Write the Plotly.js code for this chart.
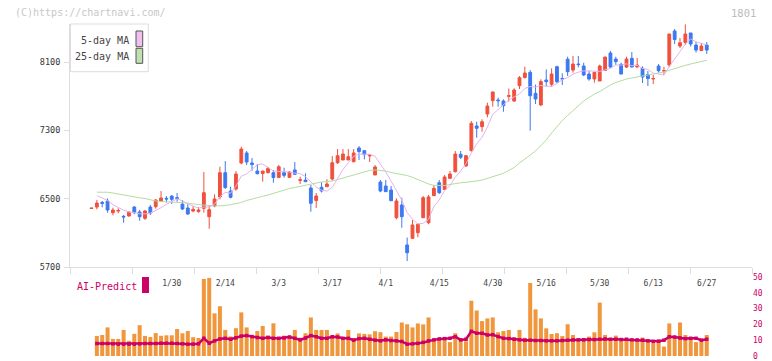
<!DOCTYPE html>
<html><head><meta charset="utf-8">
<script src="https://cdn.plot.ly/plotly-3.0.1.min.js"></script>
<style>html,body{margin:0;padding:0;background:#fff}#c{width:772px;height:361px}</style>
</head><body><div id="c"></div>
<script>
// trading days (categories)
const dates = [
"2025-01-08","2025-01-09","2025-01-10","2025-01-14","2025-01-15","2025-01-16","2025-01-17","2025-01-20","2025-01-21","2025-01-22","2025-01-23","2025-01-24","2025-01-27","2025-01-28","2025-01-29","2025-01-30","2025-01-31",
"2025-02-03","2025-02-04","2025-02-05","2025-02-06","2025-02-07","2025-02-10","2025-02-12","2025-02-13","2025-02-14","2025-02-17","2025-02-18","2025-02-19","2025-02-20","2025-02-21","2025-02-25","2025-02-26","2025-02-27","2025-02-28",
"2025-03-03","2025-03-04","2025-03-05","2025-03-06","2025-03-07","2025-03-10","2025-03-11","2025-03-12","2025-03-13","2025-03-14","2025-03-17","2025-03-18","2025-03-19","2025-03-21","2025-03-24","2025-03-25","2025-03-26","2025-03-27","2025-03-28","2025-03-31",
"2025-04-01","2025-04-02","2025-04-03","2025-04-04","2025-04-07","2025-04-08","2025-04-09","2025-04-10","2025-04-11","2025-04-14","2025-04-15","2025-04-16","2025-04-17","2025-04-18","2025-04-21","2025-04-22","2025-04-23","2025-04-24","2025-04-25","2025-04-28","2025-04-30",
"2025-05-01","2025-05-02","2025-05-07","2025-05-08","2025-05-09","2025-05-12","2025-05-13","2025-05-14","2025-05-15","2025-05-16","2025-05-19","2025-05-20","2025-05-21","2025-05-22","2025-05-23","2025-05-26","2025-05-27","2025-05-28","2025-05-29","2025-05-30",
"2025-06-02","2025-06-03","2025-06-04","2025-06-05","2025-06-06","2025-06-09","2025-06-10","2025-06-11","2025-06-12","2025-06-13","2025-06-16","2025-06-17","2025-06-18","2025-06-19","2025-06-20","2025-06-23","2025-06-24","2025-06-25","2025-06-26","2025-06-27"];

const openP = [6385,6402,6457,6473,6336,6355,6293,6297,6402,6344,6270,6402,6406,6473,6504,6531,6512,6437,6391,6356,6348,6387,6289,6414,6520,6804,6590,6613,6918,7035,6918,6824,6794,6804,6804,6748,6804,6750,6836,6714,6718,6625,6478,6633,6640,6730,6921,6953,6953,6933,7093,7062,7000,6777,6695,6648,6601,6277,6426,5958,6036,6102,6277,6219,6535,6687,6607,6738,6816,7019,6882,7062,7351,7343,7491,7647,7655,7643,7698,7643,7823,7918,7979,7733,7597,7889,7840,8045,7907,8133,8006,8076,8053,7959,7901,7878,8002,8205,8135,8073,8041,8143,8041,8026,7954,7901,8053,7995,8065,8463,8287,8328,8440,8299,8234,8299];
const highP = [6390,6484,6473,6504,6394,6387,6309,6356,6414,6367,6367,6426,6496,6590,6531,6539,6566,6484,6437,6414,6399,6812,6426,6551,6874,6941,6640,6824,7108,7058,6976,6906,6824,6874,6836,6894,6862,6824,6929,6757,6797,6660,6566,6692,6727,6999,7081,7081,7081,7081,7116,7070,7023,6894,6718,6718,6648,6504,6511,6045,6250,6212,6531,6543,6660,6718,6777,6824,7058,7058,7011,7409,7401,7429,7624,7752,7682,7663,7790,7792,7936,8045,8006,7836,7897,8014,8026,8057,7968,8162,8170,8170,8092,7995,7987,8070,8162,8229,8162,8092,8162,8217,8147,8049,7995,7948,8076,8045,8428,8486,8381,8540,8440,8340,8322,8334];
const lowP = [6385,6375,6399,6336,6305,6329,6219,6290,6317,6242,6250,6309,6383,6465,6457,6437,6465,6367,6309,6340,6336,6336,6148,6399,6492,6613,6504,6593,6902,6894,6827,6785,6699,6797,6687,6745,6745,6742,6777,6672,6697,6347,6391,6572,6640,6710,6906,6953,6953,6926,6953,6960,6929,6777,6575,6578,6476,6258,6160,5770,6028,6048,6277,6200,6531,6555,6601,6738,6806,6964,6874,7050,7214,7284,7452,7577,7577,7518,7635,7635,7784,7907,7296,7608,7585,7811,7811,7850,7831,7936,7975,8038,7936,7881,7858,7878,8002,8026,8065,7959,8030,8038,8038,7854,7819,7842,7977,7948,8041,8311,8264,8299,8281,8211,8232,8194];
const closeP = [6390,6449,6445,6367,6367,6362,6286,6340,6336,6289,6356,6332,6484,6508,6496,6492,6504,6379,6320,6375,6367,6570,6371,6496,6804,6631,6516,6789,7081,6929,6900,6792,6824,6855,6748,6874,6773,6812,6785,6722,6699,6446,6531,6590,6672,6921,7003,7023,6991,7035,7052,7015,7008,6871,6590,6582,6476,6473,6289,5867,6192,6200,6511,6520,6621,6570,6754,6789,7023,6984,7003,7382,7324,7401,7585,7749,7647,7588,7706,7772,7916,7971,7705,7667,7870,7870,7959,7869,7901,7987,8076,8070,7948,7901,7979,8053,8158,8041,8104,7959,8135,8041,8065,7924,7907,7907,7998,7998,8428,8363,8326,8428,8311,8240,8287,8240];

const ma5 = [null,6537,6508,6480,6430,6398,6365,6344,6338,6323,6321,6331,6359,6394,6435,6462,6497,6476,6438,6414,6389,6402,6401,6436,6522,6574,6564,6647,6764,6789,6843,6898,6905,6860,6824,6819,6815,6812,6798,6793,6758,6693,6637,6598,6588,6632,6743,6842,6922,6995,7021,7023,7020,6996,6907,6813,6705,6598,6482,6337,6259,6204,6212,6258,6409,6484,6595,6651,6751,6824,6911,7036,7143,7219,7339,7488,7541,7594,7655,7692,7726,7791,7814,7806,7826,7817,7814,7847,7894,7917,7958,7981,7996,7996,7995,7990,8008,8026,8067,8063,8079,8056,8061,8025,8014,7969,7960,7947,8048,8139,8223,8309,8371,8334,8318,8301];
const ma25 = [null,6576,6576,6575,6566,6555,6537,6525,6516,6510,6502,6484,6473,6467,6464,6464,6461,6457,6449,6438,6429,6426,6420,6414,6414,6420,6429,6440,6455,6479,6498,6516,6528,6543,6563,6584,6601,6619,6631,6645,6660,6674,6687,6695,6701,6707,6724,6742,6760,6783,6797,6812,6830,6836,6832,6824,6806,6795,6785,6771,6750,6724,6695,6672,6656,6651,6654,6666,6680,6686,6692,6697,6707,6718,6736,6757,6777,6797,6830,6865,6918,6970,7011,7058,7117,7187,7269,7345,7415,7474,7532,7591,7643,7684,7725,7755,7796,7831,7860,7883,7901,7913,7924,7933,7944,7954,7965,7983,8003,8024,8045,8061,8077,8092,8106,8120];

const volume = [null,12.7,13.3,18.1,10.8,10.8,16.5,9.6,14,19.5,12.7,12,14.5,12.8,13.1,13.1,17.1,14.4,15.8,11.9,11.4,48.8,49.4,27,31.5,16.5,12.4,17.6,27.6,18.1,12.8,15.8,19,12.9,20.7,11.9,12.9,12.9,16.5,11.6,14.4,24.4,16.5,16.5,16.5,12.5,14.3,12,16.5,11.4,14.3,14,13.7,15.7,15.1,12.3,12.3,15.2,21.2,20.1,18.1,20.6,20,24.4,11,11,11,8.8,14.4,11,9.3,35,28.8,22.1,23.8,24.4,15,15.8,16.5,11.8,16.5,11.5,46.2,29.5,23.8,17.5,13.9,14.4,12.6,20.1,13.3,11.2,11.2,12.3,15,33.8,13.3,10.8,12.9,10.8,11.2,9.2,9.6,11.7,9.6,8.1,10.2,6,20.6,11.7,21.2,13.3,10.8,8.8,9.2,13.3];
const aiPredict = [null,7.9,7.9,7.9,7.7,7.5,7.5,7.5,7.5,7.7,7.9,7.9,7.9,8.1,8.1,8.1,7.9,7.7,7.5,7.5,7.7,11.2,8.1,9.6,10.8,11.2,10.6,11.5,12.6,12.9,12.3,11.7,11.2,11.7,11.2,11.2,11.4,12,11.2,10.2,11.4,12.9,12.2,11.2,11.2,12.2,12,11.2,11.2,10,11,11.2,10.6,10,9.6,10.2,9.8,9.6,9.2,7.5,7.7,8,8.6,9.6,10.2,10.8,11,11.2,12.2,10.2,10.6,15.6,14.4,14.4,13.3,13.5,12.3,11.2,11,10.6,10.2,10,10,9.8,9.8,9.6,9.6,9.6,9.8,10,10.2,10.2,10.2,10.4,10.4,10.6,10.8,10.6,10.6,10.4,10.6,10.2,10.2,10,9.6,9.2,9.4,10,12.2,12,11.4,11,11.2,11.2,10,10.6];

const tickDates = ["2025-01-30","2025-02-14","2025-03-03","2025-03-17","2025-04-01","2025-04-15","2025-04-30","2025-05-16","2025-05-30","2025-06-13","2025-06-27"];
const tickText = ["1/30","2/14","3/3","3/17","4/1","4/15","4/30","5/16","5/30","6/13","6/27"];
const priceTicks = [5700,6500,7300,8100];
const rightTicks = [0,10,20,30,40,50];
const gridMarks = [0,1,2,3,4,5,6,7,8,9,10,11];

const W=772,H=361;
const px=v=>v/W, py=v=>1-v/H;
const MONO='DejaVu Sans Mono, monospace';
const RED='#f0503c', BLUE='#3c78f0', CRIM='#cc0066';

const traces = [
 {type:'scatter',mode:'lines',x:dates,y:ma25,line:{color:'#b4dca4',width:1},hoverinfo:'skip'},
 {type:'scatter',mode:'lines',x:dates,y:ma5,line:{color:'#e6b4ec',width:1},hoverinfo:'skip'},
 {type:'candlestick',x:dates,open:openP,high:highP,low:lowP,close:closeP,
  increasing:{line:{color:RED,width:1},fillcolor:RED},
  decreasing:{line:{color:BLUE,width:1},fillcolor:BLUE},whiskerwidth:0},
 {type:'bar',x:dates,y:volume,yaxis:'y2',marker:{color:'#f0963c',line:{width:0}}},
 {type:'scatter',mode:'lines+markers',x:dates,y:aiPredict,yaxis:'y2',line:{color:CRIM,width:2.5},marker:{symbol:'square',size:3.5,color:CRIM}},
 // empty trace so the tick-mark overlay axis is built
 {type:'scatter',mode:'markers',x:[],y:[],xaxis:'x2',yaxis:'y',hoverinfo:'skip'}
];

const layout = {
 width:W,height:H,margin:{l:0,r:0,t:0,b:0},paper_bgcolor:'#fff',plot_bgcolor:'rgba(0,0,0,0)',
 showlegend:false,boxgap:0.25,bargap:0.25,hovermode:false,
 xaxis:{type:'category',categoryorder:'array',categoryarray:dates,range:[-4.02,123.46],domain:[px(70),px(752)],anchor:'y',
  rangeslider:{visible:false},showgrid:false,zeroline:false,showline:true,linecolor:'#dddddd',linewidth:1,
  ticks:'',tickmode:'array',tickvals:tickDates,ticktext:tickText,tickangle:0,
  tickfont:{family:MONO,size:8,color:'#444'},ticklabelstandoff:8,fixedrange:true},
 xaxis2:{overlaying:'x',anchor:'y',range:[0,11],domain:[px(70),px(752)],tickmode:'array',tickvals:gridMarks,
  ticks:'outside',ticklen:6,tickcolor:'#dddddd',tickwidth:1,showticklabels:false,showgrid:false,zeroline:false,showline:false},
 yaxis:{domain:[py(267),py(24)],range:[5700,8545],tickmode:'array',tickvals:priceTicks,ticks:'outside',ticklen:5,tickcolor:'#dddddd',
  showline:true,linecolor:'#dddddd',showgrid:false,zeroline:false,tickfont:{family:MONO,size:8.5,color:'#333'},ticklabelstandoff:2},
 yaxis2:{domain:[py(356),py(277)],range:[0,50],side:'right',anchor:'free',position:px(752),tickmode:'array',tickvals:rightTicks,
  ticks:'',showline:false,showgrid:false,zeroline:false,ticklabeloverflow:'allow',tickfont:{family:MONO,size:8,color:CRIM}},
 shapes:[
  {type:'rect',xref:'paper',yref:'paper',x0:px(70.5),x1:px(148.3),y0:py(71.7),y1:py(24),line:{color:'#dddddd',width:1},fillcolor:'#fff',layer:'above'},
  {type:'rect',xref:'paper',yref:'paper',x0:px(136),x1:px(142.7),y0:py(46.7),y1:py(31),line:{color:'#555',width:1},fillcolor:'#f0c0f0',layer:'above'},
  {type:'rect',xref:'paper',yref:'paper',x0:px(136),x1:px(142.7),y0:py(63.3),y1:py(48.3),line:{color:'#555',width:1},fillcolor:'#c0e0b0',layer:'above'},
  {type:'rect',xref:'paper',yref:'paper',x0:px(142),x1:px(149),y0:py(293),y1:py(277),line:{width:0},fillcolor:CRIM,layer:'above'}
 ],
 annotations:[
  {xref:'paper',yref:'paper',x:px(13),y:py(12.5),xanchor:'left',yanchor:'middle',showarrow:false,text:'(C)https://chartnavi.com/',font:{family:MONO,size:10,color:'#c8c8c8'}},
  {xref:'paper',yref:'paper',x:px(758),y:py(12.5),xanchor:'right',yanchor:'middle',showarrow:false,text:'1801',font:{family:MONO,size:10.5,color:'#bbbbbb'}},
  {xref:'paper',yref:'paper',x:px(131),y:py(40),xanchor:'right',yanchor:'middle',showarrow:false,text:'5-day MA',font:{family:MONO,size:10,color:'#444'}},
  {xref:'paper',yref:'paper',x:px(131),y:py(56.5),xanchor:'right',yanchor:'middle',showarrow:false,text:'25-day MA',font:{family:MONO,size:10,color:'#444'}},
  {xref:'paper',yref:'paper',x:px(75),y:py(286),xanchor:'left',yanchor:'middle',showarrow:false,text:'AI-Predict',font:{family:MONO,size:10,color:CRIM}}
 ]
};
Plotly.newPlot('c',traces,layout,{staticPlot:true,displayModeBar:false});
</script></body></html>
